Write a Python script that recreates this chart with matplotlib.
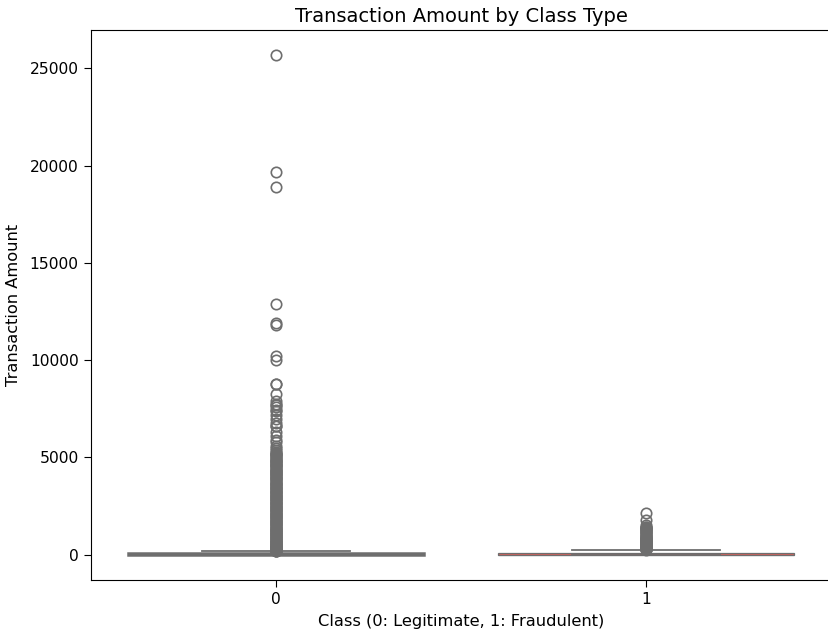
import matplotlib
matplotlib.use("Agg")
import matplotlib.pyplot as plt

classes = ["0", "1"]

# box statistics
q1 = [5.65, 1.0]
med = [22.0, 9.25]
q3 = [77.05, 105.89]
whislo = [0.0, 0.0]
whishi = [184.28, 262.0]

# outliers, class 0 (legitimate)
fliers0 = [25691.16, 19656.53, 18910.0, 12910.93, 11898.09, 11789.84, 10199.44, 10000.0,
           8790.26, 8787.0, 8242.0, 7879.42, 7766.6, 7712.43, 7575.0, 7429.0, 7366.0,
           7191.0, 6982.0, 6749.0, 6642.0, 6600.0, 6300.0, 6100.0, 5900.0, 5800.0,
           5600.0, 5500.0, 5400.0, 5290.0, 5200.0, 5110.0, 5020.0, 4930.0, 4840.0,
           4760.0, 4670.0, 4590.0, 4500.0, 4420.0, 4330.0, 4250.0, 4170.0, 4080.0,
           4000.0, 3920.0, 3830.0, 3750.0, 3660.0, 3580.0, 3500.0, 3410.0, 3330.0,
           3250.0, 3160.0, 3080.0, 3000.0, 2920.0, 2840.0, 2760.0, 2680.0, 2600.0,
           2520.0, 2440.0, 2360.0, 2280.0, 2200.0, 2120.0, 2040.0, 1960.0, 1880.0,
           1800.0, 1720.0, 1640.0, 1560.0, 1480.0, 1400.0, 1330.0, 1260.0, 1190.0,
           1120.0, 1050.0, 980.0, 910.0, 840.0, 770.0, 700.0, 640.0, 580.0, 520.0,
           460.0, 400.0, 350.0, 300.0, 260.0, 220.0, 190.0,
           5250.0, 5160.0, 5070.0, 4980.0, 4890.0, 4800.0, 4715.0, 4630.0, 4545.0,
           4460.0, 4375.0, 4290.0, 4210.0, 4125.0, 4040.0, 3960.0, 3875.0, 3790.0,
           3705.0, 3620.0, 3540.0, 3455.0, 3370.0, 3290.0, 3205.0, 3120.0, 3040.0,
           2960.0, 2880.0, 2800.0, 2720.0, 2640.0, 2560.0, 2480.0, 2400.0, 2320.0,
           2240.0, 2160.0, 2080.0, 2000.0, 1920.0, 1840.0, 1760.0, 1680.0, 1600.0,
           1520.0, 1440.0, 1365.0, 1295.0, 1225.0, 1155.0, 1085.0, 1015.0, 945.0,
           875.0, 805.0, 735.0, 670.0, 610.0, 550.0, 490.0, 430.0, 375.0, 325.0,
           280.0, 240.0, 205.0, 186.0]

# outliers, class 1 (fraudulent)
fliers1 = [2125.87, 1809.68, 1504.93, 1450.0, 1402.16, 1389.56, 1354.25, 1335.0,
           1300.0, 1260.0, 1218.89, 1180.0, 1150.0, 1096.99, 1050.0, 996.27, 980.0,
           950.0, 925.31, 880.0, 860.0, 829.41, 800.0, 776.83, 766.36, 723.21, 720.8,
           717.15, 712.72, 680.0, 660.0, 634.3, 625.0, 592.9, 570.0, 540.0, 512.25,
           500.0, 480.72, 470.0, 454.82, 444.17, 429.0, 410.0, 390.0, 364.19, 354.33,
           345.0, 324.59, 316.06, 310.42, 300.0, 296.0, 280.0, 273.0, 265.0]

fliers = [fliers0, fliers1]
face_colors = ["#707070", "#e0605a"]
box_lw = [1.8, 0.9]
line_color = "#6e6e6e"

stats = []
for i in range(len(classes)):
    stats.append({"label": classes[i], "q1": q1[i], "med": med[i], "q3": q3[i],
                  "whislo": whislo[i], "whishi": whishi[i], "fliers": fliers[i]})

fig = plt.figure(figsize=(8.29, 6.35), dpi=100)
ax = fig.add_axes([0.110, 0.087, 0.893, 0.866])

bp = ax.bxp(stats, positions=[0, 1], widths=0.8, patch_artist=True,
            capwidths=0.4,
            boxprops=dict(edgecolor=line_color, linewidth=0.9),
            whiskerprops=dict(color=line_color, linewidth=1.3),
            capprops=dict(color=line_color, linewidth=1.3),
            medianprops=dict(color=line_color, linewidth=0.8),
            flierprops=dict(marker="o", markersize=7.5, markerfacecolor="none",
                            markeredgecolor=line_color, markeredgewidth=1.2))
for patch, c, lw in zip(bp["boxes"], face_colors, box_lw):
    patch.set_facecolor(c)
    patch.set_linewidth(lw)

ax.set_xlim(-0.5, 1.5)
ax.set_xticks([0, 1])
ax.set_xticklabels(classes)
ax.tick_params(labelsize=11.2, length=5, pad=4)
ax.set_title("Transaction Amount by Class Type", fontsize=14, pad=6)
ax.set_xlabel("Class (0: Legitimate, 1: Fraudulent)", fontsize=11.7, labelpad=5)
ax.set_ylabel("Transaction Amount", fontsize=11.7, labelpad=6)

fig.savefig("out.png", dpi=100)
